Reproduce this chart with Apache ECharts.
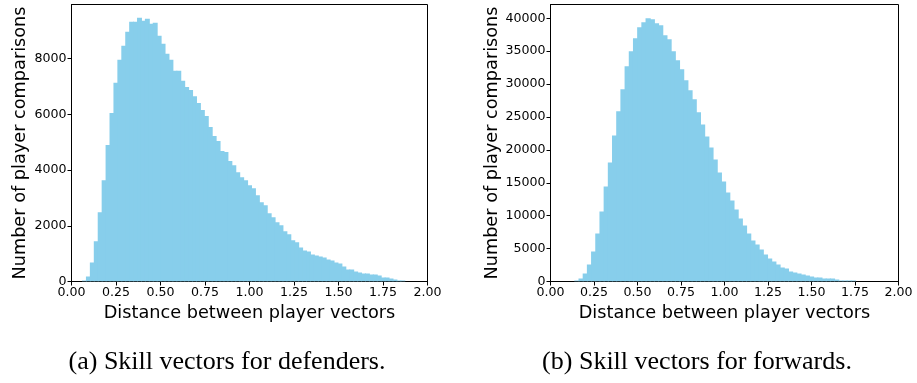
<!DOCTYPE html>
<html>
<head>
<meta charset="utf-8">
<script src="https://cdn.jsdelivr.net/npm/echarts@6/dist/echarts.min.js"></script>
<style>
  html, body { margin: 0; padding: 0; background: #fff; }
  #chart { width: 917px; height: 383px; }
</style>
</head>
<body>
<div id="chart"></div>
<script>
// ---- Data ----
// (a) defenders: histogram bins start at defBinStart, each of width defBinWidth
const defBinStart = 0.059;
const defBinWidth = 0.02208;
const defCounts = [
  36, 180, 684, 1440, 2484, 3636, 4896, 6048, 7128, 7956,
  8460, 8964, 9324, 9324, 9468, 9360, 9432, 9252, 9288, 8820,
  8532, 8172, 7956, 7560, 7560, 7200, 6984, 6876, 6650, 6408,
  6156, 5940, 5544, 5220, 5040, 4680, 4644, 4320, 4176, 3924,
  3744, 3636, 3456, 3348, 3096, 2844, 2736, 2448, 2304, 2124,
  2016, 1800, 1692, 1476, 1404, 1224, 1116, 1080, 972, 936,
  900, 864, 792, 756, 684, 648, 540, 432, 432, 360,
  324, 288, 288, 252, 252, 216, 144, 144, 108, 72,
  36, 36
];
// (b) forwards
const fwdBinStart = 0.1368;
const fwdBinWidth = 0.02408;
const fwdCounts = [
  152, 456, 1217, 2586, 4563, 7300, 10647, 14450, 18100, 22207,
  25857, 29203, 32702, 34983, 36960, 38633, 39394, 40002, 39850, 39242,
  38938, 37417, 36808, 34983, 33614, 32245, 30572, 29051, 27682, 25705,
  23880, 22055, 20381, 18556, 16579, 15210, 13537, 12320, 10951, 9582,
  8518, 7301, 6236, 5628, 4867, 4107, 3498, 3042, 2586, 2129,
  1977, 1521, 1369, 1217, 1065, 913, 760, 608, 608, 456,
  456, 456, 304, 152, 152, 152, 152
];
const defYMax = 9940;
const fwdYMax = 42100;
const xTitle = 'Distance between player vectors';
const yTitle = 'Number of player comparisons';
const captions = ['(a) Skill vectors for defenders.', '(b) Skill vectors for forwards.'];

// ---- Build ----
function binsToData(start, width, counts) {
  return counts.map((c, i) => [start + i * width, start + (i + 1) * width, c]);
}
const BAR = '#87CEEB';
function renderBar(params, api) {
  const p0 = api.coord([api.value(0), api.value(2)]);
  const p1 = api.coord([api.value(1), 0]);
  return {
    type: 'rect',
    shape: { x: p0[0], y: p0[1], width: p1[0] - p0[0] + 1, height: p1[1] - p0[1] },
    style: { fill: BAR }
  };
}
const SANS = 'DejaVu Sans';
const tickFont = { fontFamily: SANS, fontSize: 12.6, color: '#000' };
function xAxis(gi) {
  return {
    type: 'value', gridIndex: gi, min: 0, max: 2, interval: 0.25,
    axisLine: { show: true, onZero: false, lineStyle: { color: '#000', width: 1 } },
    axisTick: { show: true, length: 4, lineStyle: { color: '#000', width: 1 } },
    axisLabel: Object.assign({ margin: 5, showMinLabel: true, showMaxLabel: true,
      formatter: v => v.toFixed(2) }, tickFont),
    splitLine: { show: false },
    name: xTitle, nameLocation: 'middle', nameGap: 23,
    nameTextStyle: { fontFamily: SANS, fontSize: 17.7, color: '#000' }
  };
}
function yAxis(gi, max, interval, gap) {
  return {
    type: 'value', gridIndex: gi, min: 0, max: max, interval: interval,
    axisLine: { show: true, lineStyle: { color: '#000', width: 1 } },
    axisTick: { show: true, length: 4, lineStyle: { color: '#000', width: 1 } },
    axisLabel: Object.assign({ margin: 5, showMaxLabel: false, formatter: v => String(v) }, tickFont),
    splitLine: { show: false },
    name: yTitle, nameLocation: 'middle', nameGap: gap,
    nameTextStyle: { fontFamily: SANS, fontSize: 17.7, color: '#000' }
  };
}

const chart = echarts.init(document.getElementById('chart'), null, { renderer: 'canvas' });
chart.setOption({
  animation: false,
  backgroundColor: '#fff',
  grid: [
    { left: 71.5, top: 4.5, width: 356, height: 277, show: true, borderColor: '#000', borderWidth: 1, backgroundColor: 'transparent' },
    { left: 550.5, top: 4.5, width: 348, height: 277, show: true, borderColor: '#000', borderWidth: 1, backgroundColor: 'transparent' }
  ],
  xAxis: [xAxis(0), xAxis(1)],
  yAxis: [yAxis(0, defYMax, 2000, 42), yAxis(1, fwdYMax, 5000, 49)],
  series: [
    { type: 'custom', xAxisIndex: 0, yAxisIndex: 0, renderItem: renderBar, clip: true,
      encode: { x: [0, 1], y: 2 }, data: binsToData(defBinStart, defBinWidth, defCounts) },
    { type: 'custom', xAxisIndex: 1, yAxisIndex: 1, renderItem: renderBar, clip: true,
      encode: { x: [0, 1], y: 2 }, data: binsToData(fwdBinStart, fwdBinWidth, fwdCounts) }
  ],
  graphic: [
    { type: 'text', x: 227, y: 362, style: { text: captions[0], font: '26px "Liberation Serif"', fill: '#000', align: 'center', verticalAlign: 'middle' } },
    { type: 'text', x: 697, y: 362, style: { text: captions[1], font: '26px "Liberation Serif"', fill: '#000', align: 'center', verticalAlign: 'middle' } }
  ]
});
</script>
</body>
</html>
